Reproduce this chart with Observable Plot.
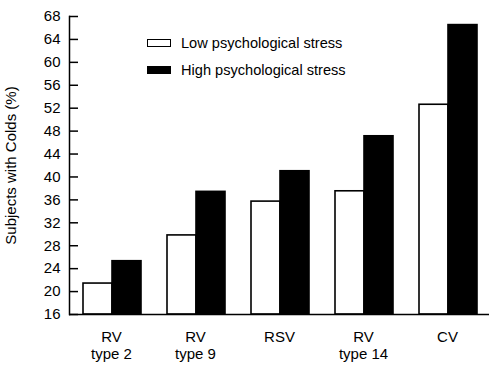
<!DOCTYPE html>
<html>
<head>
<meta charset="utf-8">
<script src="https://cdn.jsdelivr.net/npm/d3@7"></script>
<script src="https://cdn.jsdelivr.net/npm/@observablehq/plot@0.6"></script>
<style>
  html, body { margin: 0; padding: 0; background: #fff; }
  #wrap { position: relative; width: 490px; height: 374px; font-family: "Liberation Sans", Arial, Helvetica, sans-serif; }
  .legend { position: absolute; left: 147px; top: 29px; font-size: 14.6px; color: #000; }
  .legend .row { display: flex; align-items: center; height: 27px; }
  .legend .sw { width: 24px; height: 8px; box-sizing: border-box; border: 1.6px solid #000; margin-right: 10px; }
</style>
</head>
<body>
<div id="wrap"></div>
<script>
const categories = ["RV\ntype 2", "RV\ntype 9", "RSV", "RV\ntype 14", "CV"];
const seriesNames = ["Low psychological stress", "High psychological stress"];
const lowStress = [21.4, 29.8, 35.7, 37.5, 52.6];
const highStress = [25.3, 37.4, 41.0, 47.1, 66.5];
const yTicks = [16, 20, 24, 28, 32, 36, 40, 44, 48, 52, 56, 60, 64, 68];
const yLabel = "Subjects with Colds (%)";

const rows = [];
categories.forEach((c, i) => {
  rows.push({cat: c, series: seriesNames[0], value: lowStress[i]});
  rows.push({cat: c, series: seriesNames[1], value: highStress[i]});
});
const yMin = yTicks[0], yMax = yTicks[yTicks.length - 1];

const chart = Plot.plot({
  width: 490,
  height: 374,
  marginLeft: 68,
  marginRight: 0,
  marginTop: 16,
  marginBottom: 60,
  style: {fontFamily: "'Liberation Sans', Arial, Helvetica, sans-serif", fontSize: "15px", color: "#000", background: "#fff"},
  fx: {domain: categories, padding: 0, label: null},
  x: {domain: seriesNames, paddingInner: 0, paddingOuter: 0.407, align: 0.55, axis: null},
  y: {domain: [yMin, yMax], label: null},
  color: {domain: seriesNames, range: ["#fff", "#000"]},
  marks: [
    Plot.barY(rows, {fx: "cat", x: "series", y1: () => yMin, y2: "value", fill: "series", stroke: "#000", strokeWidth: 1.6}),
    Plot.ruleY([yMin], {stroke: "#000", strokeWidth: 1.5}),
    Plot.frame({anchor: "left", facetAnchor: "left", stroke: "#000", strokeWidth: 1.5}),
    Plot.axisY(yTicks, {anchor: "left", tickSize: -9, tickPadding: 18, strokeWidth: 1.5, label: yLabel, labelAnchor: "center", labelArrow: "none", labelOffset: 64}),
    Plot.axisFx({anchor: "bottom", tickSize: 0, tickPadding: 16, label: null, lineHeight: 1.1})
  ]
});
const wrap = document.getElementById("wrap");
wrap.appendChild(chart);
const legend = document.createElement("div");
legend.className = "legend";
seriesNames.forEach((s, i) => {
  const row = document.createElement("div");
  row.className = "row";
  const sw = document.createElement("div");
  sw.className = "sw";
  sw.style.background = i === 0 ? "#fff" : "#000";
  const t = document.createElement("span");
  t.textContent = s;
  row.appendChild(sw); row.appendChild(t);
  legend.appendChild(row);
});
wrap.appendChild(legend);
</script>
</body>
</html>
